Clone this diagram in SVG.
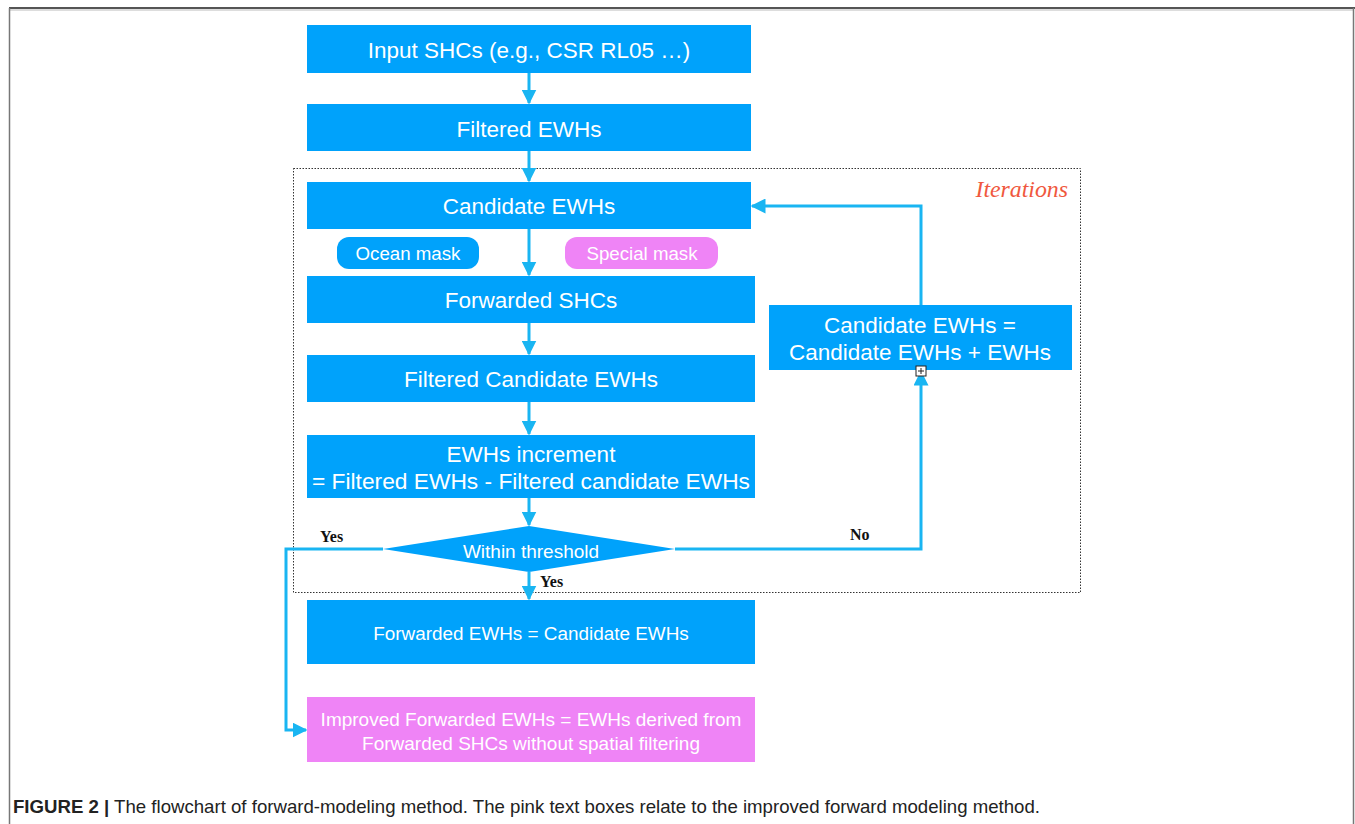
<svg xmlns="http://www.w3.org/2000/svg" width="1355" height="824" viewBox="0 0 1355 824">
<defs>
<style>
.box{fill:#00A2FB}
.pink{fill:#EF84F6}
.t{font-family:"Liberation Sans",Arial,sans-serif;fill:#fff;text-anchor:middle}
.lbl{font-family:"Liberation Serif","Times New Roman",serif;font-weight:bold;font-size:16px;fill:#111}
.c{fill:none;stroke:#19B5F2;stroke-width:3}
</style>
<marker id="ah" viewBox="0 0 10 10" refX="9" refY="5" markerWidth="5" markerHeight="5" markerUnits="strokeWidth" orient="auto">
<path d="M0,0 L10,5 L0,10 z" fill="#19B5F2"/>
</marker>
</defs>
<rect width="1355" height="824" fill="#fff"/>
<g id="frame">
<line x1="9" y1="8" x2="1355" y2="8" stroke="#555" stroke-width="2"/>
<line x1="10" y1="10" x2="1353" y2="10" stroke="#bbb" stroke-width="1"/>
<line x1="9.5" y1="8" x2="9.5" y2="824" stroke="#777" stroke-width="1.5"/>
<line x1="1353.5" y1="8" x2="1353.5" y2="824" stroke="#777" stroke-width="1.5"/>
</g>
<g id="iterations">
<rect x="293.5" y="168.5" width="787" height="424" fill="none" stroke="#333" stroke-width="1" stroke-dasharray="1.5,1.5"/>
<text x="1068" y="197" text-anchor="end" font-family="Liberation Serif,Times New Roman,serif" font-style="italic" font-size="23.8" fill="#F0583E">Iterations</text>
</g>
<g id="connectors">
<line class="c" x1="529" y1="73" x2="529" y2="103" marker-end="url(#ah)"/>
<line class="c" x1="529" y1="151" x2="529" y2="181" marker-end="url(#ah)"/>
<line class="c" x1="529" y1="229" x2="529" y2="275" marker-end="url(#ah)"/>
<line class="c" x1="529" y1="323" x2="529" y2="354" marker-end="url(#ah)"/>
<line class="c" x1="529" y1="402" x2="529" y2="434" marker-end="url(#ah)"/>
<line class="c" x1="529" y1="498" x2="529" y2="525" marker-end="url(#ah)"/>
<line class="c" x1="529" y1="572" x2="529" y2="599" marker-end="url(#ah)"/>
<polyline class="c" points="675,549 921,549 921,372" marker-end="url(#ah)"/>
<polyline class="c" points="921,305 921,206 752,206" marker-end="url(#ah)"/>
<polyline class="c" points="383,549 286,549 286,730 306,730" marker-end="url(#ah)"/>
<text class="lbl" x="320" y="542">Yes</text>
<text class="lbl" x="540" y="587">Yes</text>
<text class="lbl" x="850" y="540">No</text>
</g>
<g id="n1"><rect class="box" x="307" y="25" width="444" height="48"/><text class="t" x="529" y="58" font-size="22.5">Input SHCs (e.g., CSR RL05 …)</text></g>
<g id="n2"><rect class="box" x="307" y="104" width="444" height="47"/><text class="t" x="529" y="137" font-size="22.5">Filtered EWHs</text></g>
<g id="n3"><rect class="box" x="307" y="182" width="444" height="47"/><text class="t" x="529" y="214" font-size="22.5">Candidate EWHs</text></g>
<g id="ocean"><rect class="box" x="337" y="237" width="142" height="32" rx="12"/><text class="t" x="408" y="260" font-size="18.7">Ocean mask</text></g>
<g id="special"><rect class="pink" x="565" y="237" width="153" height="32" rx="12"/><text class="t" x="642" y="260" font-size="18.7">Special mask</text></g>
<g id="n4"><rect class="box" x="307" y="276" width="448" height="47"/><text class="t" x="531" y="308" font-size="22.5">Forwarded SHCs</text></g>
<g id="n5"><rect class="box" x="307" y="355" width="448" height="47"/><text class="t" x="531" y="387" font-size="22.5">Filtered Candidate EWHs</text></g>
<g id="n6"><rect class="box" x="307" y="435" width="448" height="63"/><text class="t" x="531" y="462" font-size="22.5">EWHs increment</text><text class="t" x="531" y="489" font-size="22.5" textLength="438" lengthAdjust="spacingAndGlyphs">= Filtered EWHs - Filtered candidate EWHs</text></g>
<g id="decision"><polygon class="box" points="529,526 675,549 529,572 383,549"/><text class="t" x="531" y="558" font-size="19">Within threshold</text></g>
<g id="n7"><rect class="box" x="307" y="600" width="448" height="64"/><text class="t" x="531" y="640" font-size="18.9">Forwarded EWHs = Candidate EWHs</text></g>
<g id="n8"><rect class="pink" x="307" y="697" width="448" height="65"/><text class="t" x="531" y="726" font-size="19">Improved Forwarded EWHs = EWHs derived from</text><text class="t" x="531" y="750" font-size="19">Forwarded SHCs without spatial filtering</text></g>
<g id="n9"><rect class="box" x="769" y="305" width="303" height="65"/><text class="t" x="920" y="333" font-size="22.5">Candidate EWHs =</text><text class="t" x="920" y="360" font-size="22.5">Candidate EWHs + EWHs</text>
<rect x="916" y="366" width="10" height="10" fill="#fff" stroke="#222" stroke-width="1"/><path d="M918,371 H924 M921,368 V374" stroke="#222" stroke-width="1"/></g>
<g id="caption"><text x="13" y="813" font-family="Liberation Sans,Arial,sans-serif" font-size="18.4" fill="#222" textLength="1027" lengthAdjust="spacingAndGlyphs"><tspan font-weight="bold">FIGURE 2 |</tspan> The flowchart of forward-modeling method. The pink text boxes relate to the improved forward modeling method.</text></g>
</svg>
